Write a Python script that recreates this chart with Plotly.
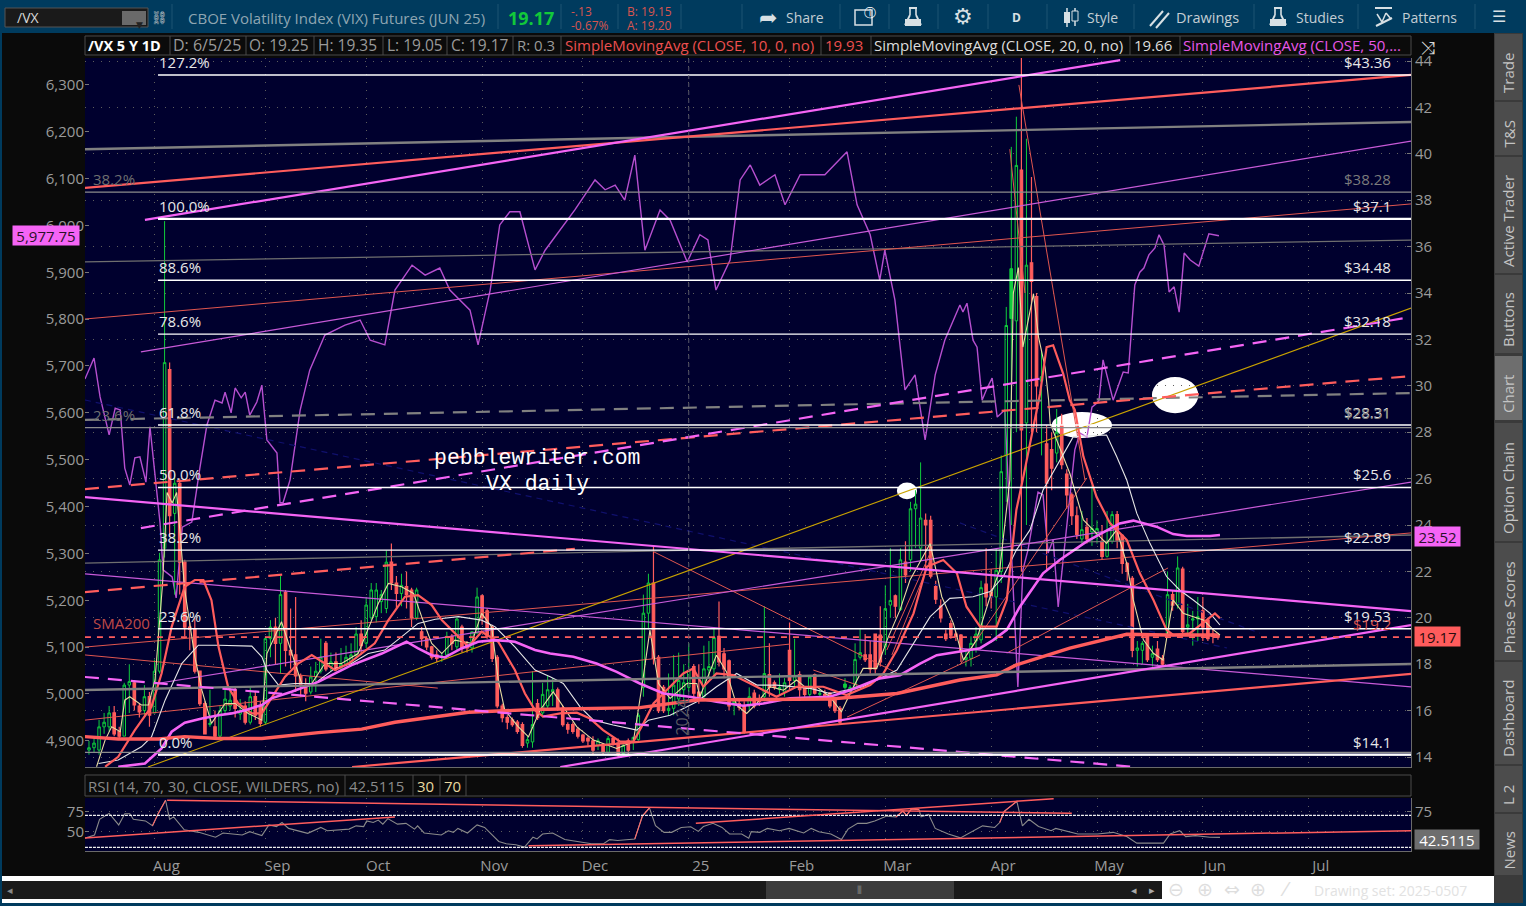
import plotly.graph_objects as go

W, H = 1526, 906
FONT = "Open Sans"

# ---------- price bars (session index 0..224, last = 6/5/25) ----------
opens = [14.3,14.4,14.3,15.3,15.3,15.9,15.1,14.9,17.1,17.2,
 16.2,16.0,16.6,15.9,17.7,23,30.7,24.5,25.8,22.4,
 19.6,19.5,17.7,16.3,15.4,15.3,14.9,16,16.2,16.9,
 15.85,16.2,15.5,16.6,16.2,15.5,19.1,19.6,18.9,21.1,
 18.6,18.4,17.5,17.1,16.8,17.45,17.7,18.9,17.9,18.1,
 17.85,18,18.1,18.4,19.3,18.9,20,20.05,20.7,20.4,
 22.4,21.5,21.05,21.35,21.2,20,19.4,19.1,18.75,18.4,
 18.3,18.4,19.2,18.75,19.6,18.8,18.7,19.35,20.95,20.3,
 19.6,18.3,16.2,15.7,15.6,15.5,15.4,14.6,14.65,16.3,
 15.9,16.2,16.8,16.9,16.1,15.4,15.4,15.2,14.95,14.8,
 14.7,14.5,14.5,14.2,14.8,14.6,14.15,14.7,14.65,14.75,
 17,20.2,21.5,18.3,17,16,16.1,16.5,16.9,17,
 17.9,16.8,16.6,17.75,17.8,19.2,18.45,18.15,16.3,16.3,
 16.2,16.2,16.75,16.5,16.6,17.55,17.2,16.9,16.8,18.6,
 17.3,17.55,16.95,16.7,17.55,16.7,16.7,16.75,16.45,16.1,
 17,16.9,17,18.3,18.4,18.4,19.3,19.25,18.75,20.55,
 20.95,20.35,22.4,22.5,24.7,23,24.2,24.2,21.35,20.5,
 19.3,19.75,19.3,19.26,18.2,18.25,19,19.05,21.45,21.1,
 20.9,22,27,32.9,32.8,39.3,28.4,35.3,33.85,30.2,
 27.5,27.25,27.1,28.3,26.2,25.3,24.4,23.4,23.9,23.7,
 23.6,23.3,22.65,23.3,24.45,23.55,22.35,21.7,18.6,18.6,
 19.2,18.3,18.65,18.25,19.3,21,20.55,22.1,19.6,19.9,
 19.95,20.3,19.9,19.3,19.25]
highs = [14.7,14.9,15.6,15.9,16.2,16.2,15.3,17.2,18.0,17.3,
 16.3,17.1,16.8,18.2,22.8,37.1,31,26.2,26,22.5,
 19.8,20,17.7,16.4,16.9,16,16.2,16.9,17,17,
 16.5,16.4,17,16.8,16.4,19.2,19.9,20,21.8,21.2,
 20.4,20.9,17.6,17.4,17.9,18.1,19.1,19,18.5,18.5,
 18.7,18.8,18.9,19.6,19.9,20.9,21.5,21.5,21.2,22.9,
 23.2,21.8,21.9,22,21.3,21.3,19.6,19.2,18.8,18.6,
 18.5,19.4,19.3,20,19.7,19,19.4,21.3,21,20.4,
 19.7,18.4,16.3,15.8,15.7,15.6,15.5,14.9,17.7,16.5,
 17.2,17.5,17.4,17,16.2,15.5,15.5,15.3,15,14.9,
 14.9,14.8,14.6,14.9,14.9,14.8,14.6,14.8,14.85,15.9,
 21,21.9,23.1,18.4,17.1,17.6,18.4,18.5,18,18.9,
 18,18,18.8,19,19.6,20.7,18.7,18.2,16.5,16.5,
 16.4,17,16.9,16.7,20.5,18.9,17.3,17.6,17.4,19.8,
 19.1,17.7,17,17.5,17.6,16.9,16.9,16.8,16.5,16.2,
 17.4,17.1,18.9,19.5,19.3,19,19.3,20.5,21.4,23,
 21,23,23.3,25,25.5,26.7,24.5,24.4,21.6,20.8,
 19.5,19.9,19.4,19.3,18.6,19.2,19.6,21.6,23,22.1,
 23,27,33.4,40.3,41.6,46,40.65,39,34,31.5,
 28.3,28,29,28.8,26.4,25.4,24.8,24.6,24.3,25.7,
 24.2,24,24.6,24.6,24.6,23.6,22.4,21.8,19,19,
 19.3,18.8,19,18.4,22,21.2,22.65,22.2,20.6,20.3,
 20.9,20.9,20,19.5,19.35]
lows = [14.1,14.2,14.1,15.0,15.1,14.9,14.8,14.9,15.9,16.0,
 15.7,15.8,15.3,15.9,17.6,22.6,23.5,21,21,19.2,
 18.6,17.6,16.2,15,15.3,14.8,14.8,15.9,16,15.7,
 15.6,15.4,15.4,15.6,15.3,15.4,18.3,18,17.6,17.9,
 17.8,16.8,16.6,16.4,16.7,16.8,17.6,17.7,17.7,17.7,
 17.7,17.9,18,18.3,18.4,18.7,19.9,19.8,20.2,20.2,
 21.2,20.4,20.5,20.4,19.6,19.9,18.8,18.6,18.2,18.1,
 18.1,18.3,18.6,18.6,18.5,18.5,18.5,19.3,19.7,19.1,
 18.1,16.1,15.5,15.2,15.3,15,14.4,14.4,14.4,15.6,
 15.7,16.1,16.2,16,15.3,15,15,14.8,14.6,14.5,
 14.1,14.3,14.1,14.15,14.5,14,14,14.1,14.3,14.7,
 16.6,19.5,18,15.9,15.9,15.8,15.8,16.2,16.3,16.8,
 16.5,16.3,16.5,17.4,17.5,17.9,17.4,16,15.8,16,
 15,16,16.1,16.2,16.4,16.6,16.9,16.7,16.6,16.9,
 17,16.6,16.6,16.6,16.7,16.5,16.5,16.1,15.9,15.4,
 16.9,16.7,16.9,18.2,18.1,17.6,17.6,17.9,18.4,20,
 20,20.3,21.5,22,23,22.5,22,21.7,20.6,19.8,
 19,19.1,19,18.1,17.9,17.9,18.5,18.9,20.5,20.4,
 19,21.5,25,24,28,22,24,28,28,27,
 22,25.5,26.7,26.4,24.7,24,23.4,23.2,23.2,23.1,
 23.2,22.5,22.6,23.2,23,21.9,21.6,18.3,17.9,18,
 18.1,17.9,18.1,17.9,19.2,20.3,20.4,19.3,19.3,18.8,
 19,19,19,18.9,19.05]
closes = [14.4,14.6,15.3,15.5,15.9,15.0,14.9,17.1,17.25,16.25,
 15.95,16.6,15.8,17.7,22.5,31,24.4,25.8,22.4,19.6,
 19.5,17.7,16.3,15,15.45,14.9,16,16.5,16.45,16.1,
 16,15.5,16.6,15.8,15.45,19.1,19.6,18.9,21,18.6,
 18.4,17.5,17.1,16.75,17.45,17.7,18.3,17.8,18.1,17.85,
 18,18.3,18.4,19.3,18.8,20.55,21.2,21.2,21,22.4,
 21.5,21.05,21.4,21,20,21.2,19.1,18.75,18.3,18.25,
 18.35,19.2,18.9,19.95,18.7,18.7,19.4,20.9,20,19.2,
 18.25,16.2,15.7,15.5,15.4,15.1,14.5,14.75,15.4,15.7,
 16.7,16.9,16.9,16.1,15.4,15.2,15.1,14.9,14.7,14.7,
 14.3,14.7,14.2,14.8,14.6,14.15,14.5,14.3,14.85,15.8,
 20.2,21.5,18.25,16,16,16.1,17.1,17.3,17.2,17.75,
 16.75,16.5,17.8,17.9,19.15,18.1,17.8,16.2,16.4,16.15,
 15.1,16.6,16.2,16.4,17.6,17,17,17,17.2,17.3,
 17.5,16.9,16.7,17.45,16.75,16.75,16.65,16.2,16,15.5,
 17.15,17,18.2,18.5,18.2,17.8,17.8,18.1,20.4,20.75,
 20.5,22.5,21.85,24.7,24.9,24.3,24,21.8,20.8,20,
 19.1,19.25,19.2,18.54,18.3,18.9,19.3,21.3,20.9,20.9,
 22.05,26.3,32.6,35.05,39.5,28.1,35.2,34.5,30,30.4,
 25.8,26.45,28,26.6,25.3,24.4,23.6,23.8,23.4,23.85,
 23.85,22.65,23.3,24.45,23.35,22.35,22,18.6,18.7,18.9,
 18.2,18.45,18.2,18,21,20.55,22.15,19.4,19.7,19.95,
 20.05,19.6,19.1,19.2,19.17]
sessions = list(range(len(closes)))
filled_green = [150, 183]

tick_sessions = [13,35,55,78,98,119,139,158,179,200,221,242]
tick_labels = ["Aug","Sep","Oct","Nov","Dec","25","Feb","Mar","Apr","May","Jun","Jul"]
vx_ticks = list(range(14, 46, 2))
spx_ticks = list(range(4900, 6400, 100))

# ---------- studies (session, value) ----------
sma200_s = [-0.8,5.8,13.8,19,25.7,34.3,45.5,54.1,60.7,75.3,88.5,109.3,120.6,147,160.3,172.8,180.1,184,194.6,205.9,213.9,223.9]
sma200_v = [14.88,14.78,14.78,14.88,14.8,14.8,15.05,15.2,15.5,15.93,16.05,16.13,16.46,16.5,16.74,17.32,17.54,17.97,18.69,19.29,19.26,19.26]

sma50_s = [5.8,11.1,14.4,16.4,19,22.4,25.7,28.3,31,34.3,36.2,40.2,45.5,52.1,58.1,63,65.3,68,70.6,73.9,77.2,80.6,84.5,88.5,91.5,96.1,100.7,104.7,109.3,114,119.2,124.5,129.8,133.8,139.1,147,151,156.9,160.9,164.9,168.2,172.8,176.8,179.4,182.1,184.7,189.3,192.6,197.9,204.5,207.2,211.8,215.1,217.8,222.4,224.4]
sma50_v = [13.58,13.72,14.37,15.09,15.48,15.66,15.8,15.88,16.02,16.24,16.53,16.81,17.24,17.96,18.46,18.97,18.68,18.39,18.29,18.68,18.97,19.04,18.97,18.61,18.46,18.32,18.03,17.67,17.17,16.74,16.6,16.38,16.21,16.31,16.53,16.6,16.88,17.39,17.53,18.03,18.39,18.54,18.69,19.04,19.48,20.48,21.92,22.49,23.28,24.07,24.19,23.93,23.61,23.53,23.53,23.57]

sma20_s = [1.9,5.8,10.4,12.4,15.1,18.4,21.7,25.7,32.3,34.3,35.3,37.6,40.9,44.8,48.8,52.1,55.4,58.7,62,65.3,68.7,73.3,77.9,80.6,84.5,88.5,91.5,94.1,97.4,100.1,104,108.7,111,115.3,120.6,124.5,128.5,132.5,136.4,143.1,147,153.6,160.3,163.6,166.9,170.8,173.5,175.4,178.8,181.4,184,186.7,189.3,192.6,195.3,201.9,203.9,205.9,207.9,210.5,213.8,216.4,219.1,222.4,224.4]
sma20_v = [13.72,13.87,14.44,14.87,16.45,18.03,18.82,18.82,18.78,18.32,17.75,17.1,17.17,17.17,17.82,18.03,18.46,18.61,19.18,19.76,19.94,20.05,19.9,19.61,18.75,17.75,17.46,17.17,16.17,15.59,15.38,15.16,15.59,15.8,16.38,17.03,17.6,17.1,17.1,16.96,16.74,17.03,17.75,18.9,20.05,20.84,20.88,20.91,21.13,21.78,22.92,23.79,25.51,26.8,27.81,27.88,26.95,25.94,24.5,23.21,21.78,21.2,20.77,20.2,19.69]

sma10_s = [3.2,5.8,9.1,12.4,14.4,16.4,19,21,22.7,24.3,25.7,27.6,29.6,32.3,34.3,36.9,38.9,41.5,44.2,46.8,48.8,51.5,54.1,56.7,59.4,62.7,65.3,68,70,72.6,75.3,77.9,81.2,84.5,86.5,88.5,90.1,93.5,96.8,99.4,102,105.4,108,110,112,114.6,117.9,119.9,121.9,124.5,127.8,131.2,136.4,140.4,145.7,150.3,155,157.6,160.3,163.6,166.2,169.5,172.2,174.1,176.8,180.1,182.1,184,185.4,188.7,190,191.3,193.3,194.6,195.6,197.3,199.9,202.6,205.9,208.5,211.2,213.8,215.1,218.4,221.7,223.4,224.4]
sma10_v = [13.58,14.01,15.16,16.17,17.6,19.61,21.34,21.63,21.63,20.76,18.75,17.03,16.31,15.88,15.88,16.74,17.46,18.03,18.39,18.03,17.75,18.03,18.46,18.9,19.9,20.91,20.98,20.55,19.9,19.33,18.75,19.4,18.97,17.75,16.74,16.02,15.74,15.88,15.91,15.66,15.16,14.66,14.66,15.45,16.31,16.88,17.6,17.82,17.03,17.6,17.53,17.17,16.6,17.03,17.03,16.67,17.1,17.6,18.61,20.19,22.2,22.49,21.92,20.48,19.62,19.62,20.77,24.65,26.09,29.66,31.67,31.75,30.52,29.38,28.96,26.95,25.22,24.07,23.36,21.92,20.77,19.48,19.26,19.33,19.91,20.19,19.98]

fast_s = [1.5,3.2,4.5,6.2,7.1,8.1,10.4,11.8,13.1,14.6,15.5,16.5,17.4,19,21,22.4,24.3,27,29,31.6,34.3,35.3,38.2,40.9,42.2,44.2,46.8,50.1,53.4,56.1,57.4,59.4,62,64.4,66,68,70,72.6,75.9,77.9,79.9,81.2,82.5,85.2,87.2,89.5,92.1,94.1,96.8,100.1,104.7,108,109.7,111.3,113,115.3,118.6,120.6,121.2,124.5,126.5,128.5,130.5,132.5,135.1,137.8,140.4,142.4,144.4,147,149.3,151,153.6,156.3,158.6,160.9,162.9,166.9,169.2,171.5,173.5,176.1,178.8,180.7,182.7,183.4,184.4,185.3,186.8,187.4,188.4,189.7,190.4,190.7,194.6,197.3,199.9,201.9,203.9,205.9,207.2,209.2,211.2,213.1,215.1,217.1,219.1,221.1,223.1,224.4]
fast_v = [13.58,14.73,15.3,15.09,16.45,16.6,16.24,16.24,17.32,21.48,25.4,24.95,25.4,21.2,18.32,16.88,15.45,16.31,16.31,15.88,15.59,18.46,19.83,18.03,17.17,17.17,18.03,18.03,18.46,19.9,20.62,21.48,21.34,21.05,20.05,18.9,18.46,19.04,18.9,20.19,19.61,17.32,16.02,15.3,14.87,16.02,16.81,16.17,15.3,14.73,14.37,14.66,17.03,19.47,17.17,16.53,17.17,17.17,16.6,18.39,17.67,16.24,15.88,16.31,17.03,16.88,17.32,16.96,17.03,16.6,15.95,16.74,17.82,17.82,19.18,20.33,21.63,23.2,20.91,19.76,18.18,19.05,20.91,22.06,25.94,34,35.1,31.67,33.4,33.97,32.1,30.8,29.38,28.38,26.23,24.22,23.64,23.21,23.79,22.35,20.77,19.05,18.47,18.18,20.77,20.2,20.05,19.91,19.48,19.26]

spx_s = [-0.8,1,2.2,4,5.2,6.2,7.1,8.1,9.1,10.1,11.3,12.1,14.1,14.7,16.5,17.3,18.5,20.4,22,23.4,25,26.4,27,28.2,29,30.2,31,31.9,33.3,34.3,35.3,37.3,37.9,38.5,39.9,41.9,43.8,46.8,50.8,53.8,55.8,58.7,60.7,64.1,66.7,69.6,71.6,75.6,77.2,79.6,81.5,83.5,85.5,88.5,90.5,96.4,98.4,100.4,102.4,104.4,106.3,108.3,110.3,113.3,115.3,118.7,121.2,122.8,124.4,127.2,129.2,131.2,133.1,136.1,138.1,141.1,146,150.4,152.4,155,156.9,157.9,159.9,161.9,163.9,165.9,167.9,169.8,172.8,173.4,174.2,175.4,176.2,177.2,178.2,179.2,180.2,181.7,183.1,184.3,185.3,186.3,188.3,189.3,190.3,191.3,192.3,195.6,196.6,198,199,200,200.4,201.2,203.2,205.2,206.2,207.5,208.5,209.3,210.3,211.5,212.3,213.3,214.3,215.3,216.3,217.3,218.5,220.2,222.2,224.2]
spx_v = [5672,5717,5634,5553,5610,5606,5482,5446,5504,5506,5452,5570,5365,5265,5250,5205,5356,5367,5482,5574,5627,5621,5644,5600,5653,5632,5644,5595,5623,5659,5542,5514,5408,5408,5457,5606,5691,5766,5787,5798,5755,5745,5862,5915,5894,5909,5862,5819,5745,5862,6001,6029,6029,5905,5947,6033,6065,6097,6076,6086,6054,6150,5947,6033,6011,5922,5980,5969,5862,5926,6097,6129,6086,6108,6044,6108,6108,6157,6044,5980,5883,5947,5841,5649,5681,5542,5681,5755,5830,5815,5834,5755,5740,5627,5653,5674,5591,5606,5286,5015,5265,5307,5431,5425,5301,5329,5186,5521,5557,5548,5612,5621,5627,5713,5627,5687,5685,5873,5900,5909,5937,5952,5980,5958,5858,5869,5815,5941,5926,5913,5982,5977.75]

rsi_s = [-0.8,1.1,2.1,4,5.9,7.1,8.1,8.8,11.2,12.6,13.8,15.2,16,16.8,18.9,21.8,25.1,26.6,30.4,31.9,34.3,35.7,37.2,38.3,39.6,43.4,46,47.3,51.6,53,54.5,55.1,56.4,57.4,58.3,59.3,61.2,62.9,64.6,65.2,66.5,69.9,71.3,72.3,73.2,75.1,77,78.5,81.3,82.8,84.7,86.4,88.1,88.9,90,92,94.4,99.7,102.1,103.3,104.9,108.3,109.8,111.2,112.4,114.1,115.6,117.5,119.4,120.9,121.9,123.8,125.6,127.1,129.5,130.9,131.4,133.1,134.6,137,138.9,141.8,143.3,144.8,147.2,149.3,150.6,152.5,154.3,155.9,158.3,160.1,161.5,162.2,163.2,164.7,165.1,166.6,167.9,170.5,172.9,177.3,179.7,180.7,181.6,184.1,185.2,186.5,188.4,190.9,191.8,196.2,200.1,203.2,205.9,207.9,213.2,214.5,216.4,217.6,219.5,222.4,224.4]
rsi_v = [41.5,45.5,65,72.4,58,72,72,65,63,57,73,88.6,65,68,52,48.8,42.7,48,45.5,49.6,44.7,58,56,61,53.7,47.6,54.9,50.8,52.8,56.9,56,63,61,64,59,65.9,59,60,52.8,56.9,48,45.5,50.8,48.8,53.7,48,58,54.9,37.4,34.6,33.3,30.5,42.7,40.6,46.7,48,39.8,34.6,34.6,39.8,38.6,40.6,69,79.3,57,48.8,48.8,54.9,55.7,50,56,60,54.9,46.7,46.7,41.5,49.6,48.8,53.7,50.8,53.7,48,53.7,49.6,46.7,39.8,52.8,60,60,63,69,67.9,75.2,70,78,77,68,71,53.7,46.7,41.9,56.9,54.9,61,75,87.4,56.9,65,56,50.8,53.7,46.7,46.7,48.8,43.5,35.4,35.4,46.7,50.8,43.5,44.7,42.7,42.5115]
rsi_hot_ranges = [(12.6,15.2),(108.3,111.2),(160.1,164.7),(180.7,184.1)]

# ---------- drawings: (session0, value0, session1, value1) ----------
pink_thick = [(11.1,37.15,204.6,44.04),(-0.8,25.2,262.3,20.29),(93.5,13.57,262.3,19.69)]
pink_dashed = [(10.3,23.87,261.1,32.92),(-0.8,17.45,207.5,13.57)]
pink_thin = [(10.3,31.46,262.3,40.55),(-0.8,21.89,262.3,17.02),(14.1,17.19,262.3,25.85)]
red_thick = [(-0.8,38.53,262.3,43.4),(52.2,13.57,262.3,17.58)]
red_dashed = [(-0.8,25.55,262.3,30.42),(-0.8,21.11,96.4,22.97)]
red_thin = [(-0.8,18.74,262.3,23.66),(-0.8,32.88,262.3,37.84),(-0.8,18.4,69.2,16.97),(-0.8,15.59,139.1,18.87),
            (112.1,22.84,160.3,17.62),(143.7,17.75,153.6,17.02),(150.4,15.72,176.8,18.4),(172.8,17.97,198,26.03),
            (182.1,18.48,214.1,22.15),(158.3,18.61,166.9,22.79),(159.3,18.4,167.3,22.71),(182.7,40.2,185.7,34),(184.5,42.97,197.6,25.94)]
gray_thick = [(-0.8,40.2,262.3,41.37),(-0.8,16.89,262.3,18.01)]
gray_dashed = [(-0.8,28.53,262.3,29.69)]
gray_thin = [(-0.8,35.34,262.3,36.28),(-0.8,22.36,262.3,23.57)]
gold_thin = [(11.7,13.57,262.3,33.35)]
navy_dashed = [(-0.8,29.39,225.8,18.7),(172.8,24.09,232.3,19.34)]
rsi_trends = [(15.5,88.6,195,72.4),(-0.8,41.9,60.7,67.9),(87.2,32.1,262.3,50.8),(120.4,60,191.4,90.6)]

fib_pct = ["127.2%","100.0%","88.6%","78.6%","61.8%","50.0%","38.2%","23.6%","0.0%"]
fib_val = [43.4,37.2,34.55,32.23,28.31,25.62,22.92,19.53,14.1]
fib_txt = ["$43.36","$37.1","$34.48","$32.18","$28.31","$25.6","$22.89","$19.53","$14.1"]
fib_heavy = [37.2,14.1]
fib2_val = [38.35,28.2,14.2]
last_close = 19.17
# ellipses: (centre session, centre value, half-width sessions, half-height value)
ellipses = [(215.5,29.6,4.6,0.78),(197,28.31,6,0.56),(162.3,25.47,2,0.36)]

XR = [-0.79, 262.3]
Y2R = [13.57, 44.13]
YR = [4844.2, 6357.2]
RR = [25.6, 91.5]
FIB_X0, AX_R = 13.7, 262.3

fig = go.Figure()

def segs(rows):
    xs, ys = [], []
    for a, b, c, d in rows:
        xs += [a, c, None]
        ys += [b, d, None]
    return xs, ys

def lines(rows, color, width, dash="solid", xa="x", ya="y2", opacity=1):
    xs, ys = segs(rows)
    fig.add_trace(go.Scatter(x=xs, y=ys, mode="lines", xaxis=xa, yaxis=ya, hoverinfo="skip", opacity=opacity,
                             line=dict(color=color, width=width, dash=dash), connectgaps=False))

def path(xs, ys, color, width, xa="x", ya="y2"):
    fig.add_trace(go.Scatter(x=xs, y=ys, mode="lines", xaxis=xa, yaxis=ya, hoverinfo="skip",
                             line=dict(color=color, width=width)))

RED, PINK, GRAY = "#ff5c5c", "#f564f5", "#808080"
GREEN = "#10cc3c"

# purple index line on left axis (base plot, behind everything)
path(spx_s, spx_v, "#b64fcf", 1.4, ya="y")

lines(navy_dashed, "#10106e", 1.2, "6px,5px")
lines(gray_thin, "#6f6f6f", 1.3)
lines(red_thin, "#e0564f", 1)
lines(pink_thin, "#c85ad8", 1.2)
lines(gold_thin, "#c9a200", 1.1)

fig.add_trace(go.Candlestick(x=sessions, open=opens, high=highs, low=lows, close=closes,
    xaxis="x", yaxis="y2", hoverinfo="skip", whiskerwidth=0,
    increasing=dict(line=dict(color=GREEN, width=1), fillcolor="rgba(0,0,0,0)"),
    decreasing=dict(line=dict(color=RED, width=1.2), fillcolor=RED)))
fig.add_trace(go.Bar(x=filled_green, base=[opens[i] for i in filled_green],
    y=[closes[i]-opens[i] for i in filled_green], width=0.7, marker=dict(color=GREEN, line=dict(width=0)),
    xaxis="x", yaxis="y2", hoverinfo="skip"))

path(fast_s, fast_v, "#e8dca0", 1.1)
path(sma20_s, sma20_v, "#e6e6e6", 1.1)
path(sma10_s, sma10_v, RED, 2.2)
path(sma50_s, sma50_v, PINK, 2.6)
path(sma200_s, sma200_v, RED, 3.4)

lines(gray_thick, GRAY, 2.4)
lines(gray_dashed, GRAY, 2.2, "14px,9px")
lines(red_thick, RED, 2.2)
lines(red_dashed, RED, 2.2, "14px,9px")
lines(pink_thick, PINK, 2.2)
lines(pink_dashed, PINK, 2.2, "14px,9px")

# fib levels
lines([(FIB_X0, v, AX_R, v) for v in fib_val], "#ffffff", 1.4)
lines([(FIB_X0, v, AX_R, v) for v in fib_heavy], "#ffffff", 2.2)
lines([(-0.8, v, AX_R, v) for v in fib2_val], "#8c8c8c", 1.2)
lines([(-0.8, last_close, AX_R, last_close)], RED, 1.8, "6px,6px")
lines([(119, 13.57, 119, 44.13)], "#5a5a6a", 1, "4px,4px")

# RSI panel
path(rsi_s, rsi_v, "#8a8a8a", 1.1, xa="x2", ya="y3")
for a, b in rsi_hot_ranges:
    idx = [i for i, s in enumerate(rsi_s) if a <= s <= b]
    path([rsi_s[i] for i in idx], [rsi_v[i] for i in idx], "#ff6a6a", 1.1, xa="x2", ya="y4")
lines([(-0.8, 70, AX_R, 70), (-0.8, 30, AX_R, 30)], "#f0f0f0", 1.2, "3px,1px", xa="x2", ya="y4")
lines(rsi_trends, "#ff5c5c", 1.5, xa="x2", ya="y4")

# ---------- chrome helpers ----------
shapes, notes = [], []
def rect(x0, y0, x1, y1, fill, line=None, lw=1):
    shapes.append(dict(type="rect", xref="paper", yref="paper", x0=x0/W, x1=x1/W, y0=1-y0/H, y1=1-y1/H,
                       fillcolor=fill, line=dict(color=line or fill, width=lw if line else 0), layer="below"))
def vline(x, y0, y1, color, lw=1):
    shapes.append(dict(type="line", xref="paper", yref="paper", x0=x/W, x1=x/W, y0=1-y0/H, y1=1-y1/H,
                       line=dict(color=color, width=lw), layer="below"))
def seg(x0, y0, x1, y1, color, lw=2):
    shapes.append(dict(type="line", xref="paper", yref="paper", x0=x0/W, x1=x1/W, y0=1-y0/H, y1=1-y1/H,
                       line=dict(color=color, width=lw), layer="below"))
def flask(cx, cy, color="#d8e0e4"):
    # simple laboratory-flask glyph for the toolbar
    seg(cx-4, cy-9, cx+4, cy-9, color, 2)
    seg(cx-3, cy-9, cx-3, cy-2, color, 1.6)
    seg(cx+3, cy-9, cx+3, cy-2, color, 1.6)
    seg(cx-3, cy-2, cx-8, cy+8, color, 1.8)
    seg(cx+3, cy-2, cx+8, cy+8, color, 1.8)
    rect(cx-8, cy+2, cx+8, cy+9, color)
def txt(x, y, s, color="#bbbbbb", size=14, anchor="left", angle=0, family=FONT):
    notes.append(dict(xref="paper", yref="paper", x=x/W, y=1-y/H, text=s, showarrow=False, xanchor=anchor, yanchor="middle",
                      textangle=angle, font=dict(family=family, size=size, color=color), borderpad=0, borderwidth=0))
def tag(x0, x1, y, s, fill, color, size=15):
    notes.append(dict(xref="paper", yref="paper", x=(x0+x1)/2/W, y=1-y/H, text=s, showarrow=False, xanchor="center", yanchor="middle",
                      width=x1-x0, height=19, bgcolor=fill, font=dict(family=FONT, size=size, color=color), borderpad=0))
def dtxt(s_, v_, s, color, size, anchor, yshift):
    notes.append(dict(xref="x", yref="y2", x=s_, y=v_, text=s, showarrow=False, xanchor=anchor, yanchor="middle", yshift=yshift,
                      font=dict(family=FONT, size=size, color=color), borderpad=0))

BLUE = "#003b5e"
ICON = "#d8e0e4"
rect(0, 0, W, 33, BLUE)
rect(0, 33, 2, 906, BLUE)
rect(1523, 33, W, 906, BLUE)
rect(0, 903, W, 906, BLUE)
# symbol box
rect(5, 8, 148, 27, "#1a1a1a", "#555555")
txt(17, 18, "/VX", "#d8d8d8", 14)
rect(122, 11, 146, 25, "#6a6a6a")
notes.append(dict(xref="paper", yref="paper", x=134/W, y=1-18/H, text="▼", showarrow=False, font=dict(size=9, color="#222", family="DejaVu Sans")))
txt(159, 18, "⛓", "#cccccc", 13, "center", family="DejaVu Sans")
for x in (172, 498, 561, 618, 681, 742, 840, 889, 938, 988, 1047, 1134, 1254, 1358, 1475):
    vline(x, 4, 29, "#1c5572")
txt(188, 18, "CBOE Volatility Index (VIX) Futures (JUN 25)", "#8fa6b2", 15)
txt(508, 18, "<b>19.17</b>", "#12c93a", 18)
txt(571, 12, "-.13", "#d8554f", 12)
txt(571, 25, "-0.67%", "#d8554f", 12)
txt(627, 12, "B: 19.15", "#d8554f", 12)
txt(627, 25, "A: 19.20", "#d8554f", 12)
txt(768, 18, "➦", ICON, 22, "center", family="DejaVu Sans")
txt(786, 18, "Share", "#c4ced4", 14)
rect(855, 10, 872, 25, BLUE, ICON, 1.5)
txt(870, 13, "ⓘ", "#ffffff", 12, "center", family="DejaVu Sans")
flask(913, 17)
txt(963, 17, "⚙", ICON, 22, "center", family="DejaVu Sans")
txt(1016, 18, "<b>D</b>", ICON, 12, "center")
vline(1067, 8, 27, ICON, 1.5)
rect(1064, 12, 1070, 23, ICON)
vline(1075, 8, 26, ICON, 1.5)
rect(1072, 11, 1078, 21, BLUE, ICON)
txt(1087, 18, "Style", "#c4ced4", 14)
seg(1150, 26, 1163, 11, ICON, 2)
seg(1156, 28, 1169, 13, ICON, 2)
txt(1176, 18, "Drawings", "#c4ced4", 14.5)
flask(1278, 17)
txt(1296, 18, "Studies", "#c4ced4", 14)
seg(1375, 8, 1392, 8, ICON, 2)
seg(1376, 26, 1392, 18, ICON, 2)
seg(1377, 14, 1382, 22, ICON, 1.5)
seg(1382, 22, 1386, 13, ICON, 1.5)
seg(1386, 13, 1391, 19, ICON, 1.5)
txt(1402, 18, "Patterns", "#c4ced4", 14)
txt(1499, 17, "☰", ICON, 16, "center", family="DejaVu Sans")

# study header row
rect(85, 36, 1411, 55, "#0b0b0b", "#4a4a4a")
for x in (170, 246, 314, 383, 447, 513, 561, 821, 871, 1130, 1180):
    vline(x, 36, 55, "#4a4a4a")
txt(88, 45.5, "<b>/VX 5 Y 1D</b>", "#ffffff", 14.5)
txt(173, 45.5, "D: 6/5/25", "#9a9a9a", 16)
txt(249, 45.5, "O: 19.25", "#9a9a9a", 15.5)
txt(318, 45.5, "H: 19.35", "#9a9a9a", 15.5)
txt(387, 45.5, "L: 19.05", "#9a9a9a", 15.5)
txt(451, 45.5, "C: 19.17", "#9a9a9a", 15.5)
txt(517, 45.5, "R: 0.3", "#9a9a9a", 15)
txt(565, 45.5, "SimpleMovingAvg (CLOSE, 10, 0, no)", "#ee5050", 15)
txt(825, 45.5, "19.93", "#ee5050", 15)
txt(874, 45.5, "SimpleMovingAvg (CLOSE, 20, 0, no)", "#dddddd", 15)
txt(1134, 45.5, "19.66", "#dddddd", 15)
txt(1183, 45.5, "SimpleMovingAvg (CLOSE, 50,...", "#e857e8", 15)
txt(1428, 47, "⤨", "#d8d8d8", 18, "center", family="DejaVu Sans")

# RSI header row
rect(85, 775, 1411, 796, "#0b0b0b", "#4a4a4a")
for x in (345, 413, 440, 466):
    vline(x, 775, 796, "#4a4a4a")
txt(88, 785.5, "RSI (14, 70, 30, CLOSE, WILDERS, no)", "#8a8a8a", 15)
txt(349, 785.5, "42.5115", "#8a8a8a", 15)
txt(417, 785.5, "30", "#e8d8a0", 15)
txt(444, 785.5, "70", "#e8d8a0", 15)

# bottom scroll strip
rect(2, 876, 1494, 881, "#ffffff")
rect(2, 881, 1162, 899, "#1a1a1a")
rect(766, 881, 954, 899, "#3c3c3c")
rect(1162, 881, 1494, 899, "#ffffff")
rect(2, 899, 1494, 903, "#ffffff")
txt(859, 890, "⦀", "#888888", 11, "center", family="DejaVu Sans")
txt(10, 890, "◂", "#888888", 11, "center", family="DejaVu Sans")
txt(1134, 890, "◂", "#aaaaaa", 11, "center", family="DejaVu Sans")
txt(1152, 890, "▸", "#aaaaaa", 11, "center", family="DejaVu Sans")
for x, g in ((1176, "⊖"), (1205, "⊕"), (1232, "⇔"), (1258, "⊕"), (1285, "⁄")):
    txt(x, 889, g, "#dedede", 19, "center", family="DejaVu Sans")
txt(1314, 890, "Drawing set: 2025-0507", "#e2e2e2", 14)

# sidebar tabs
rect(1494, 33, 1523, 903, "#3a3a3a")
tabs = [("Trade",34,100,0),("T&S",102,155,0),("Active Trader",157,273,0),("Buttons",275,353,0),("Chart",356,420,1),
        ("Option Chain",423,541,0),("Phase Scores",543,660,0),("Dashboard",662,764,0),("L 2",766,812,0),("News",814,875,0)]
for name, y0, y1, active in tabs:
    rect(1495, y0, 1522, y1, "#6e6e6e" if active else "#4c4c4c")
    txt(1508, (y0+y1)/2+6, name, "#c4c4c4", 15, "center", -90)

# chart texts
for s_, v_, p, t in zip([FIB_X0]*9, fib_val, fib_pct, fib_txt):
    dtxt(s_, v_, p, "#e8e8e8", 15, "left", 13)
    dtxt(258.6, v_, t, "#e8e8e8", 15, "right", 13)
dtxt(0.6, 38.35, "38.2%", "#6f6f6f", 15, "left", 13)
dtxt(0.6, 28.2, "23.6%", "#6f6f6f", 15, "left", 13)
dtxt(258.6, 38.35, "$38.28", "#7c7c7c", 15, "right", 13)
dtxt(258.6, 28.2, "$28.31", "#7c7c7c", 15, "right", 15)
dtxt(258.6, 19.17, "$19.2", "#d8504a", 15, "right", 13)
dtxt(0.6, 19.17, "SMA200", "#c04a46", 15, "left", 14)
dtxt(88.9, 26.87, "pebblewriter.com", "#ffffff", 21.5, "center", 0)
dtxt(88.9, 25.77, "VX daily", "#ffffff", 21.5, "center", 0)
notes[-1]["font"]["family"] = "Liberation Mono"
notes[-2]["font"]["family"] = "Liberation Mono"
notes.append(dict(xref="x", yref="y2", x=117.5, y=15.7, text="2024", showarrow=False, textangle=-90,
                  font=dict(family=FONT, size=16, color="#5a5a62")))

tag(13, 79, 235, "5,977.75", "#f564f5", "#2a102a")
tag(1415, 1460, 536, "23.52", "#f564f5", "#2a102a")
tag(1415, 1460, 636.5, "19.17", "#ff5c5c", "#2a0d0d")
tag(1415, 1479, 839, "42.5115", "#6e6e6e", "#ffffff")

for s_, v_, rx, ry in ellipses:
    shapes.append(dict(type="circle", xref="x", yref="y2", x0=s_-rx, x1=s_+rx, y0=v_-ry, y1=v_+ry,
                       fillcolor="#ffffff", line=dict(width=0), layer="below"))

axis_font = dict(family=FONT, size=15, color="#9a9a9a")
grid = dict(showgrid=True, gridcolor="#5d5d5d", griddash="1px,7px", gridwidth=1)
DOM_X = [85/W, 1411/W]
fig.update_layout(
    width=W, height=H, margin=dict(l=0, r=0, t=0, b=0, autoexpand=False), showlegend=False, barmode="overlay",
    paper_bgcolor="#0a0a0a", plot_bgcolor="#00002e", shapes=shapes, annotations=notes,
    font=dict(family=FONT),
    xaxis=dict(domain=DOM_X, range=XR, anchor="y", tickvals=tick_sessions, showticklabels=False, ticks="",
               showline=True, linecolor="#6a6a6a", rangeslider=dict(visible=False), zeroline=False, **grid),
    yaxis=dict(domain=[1-767/H, 1-58/H], range=YR, side="left", anchor="x", tickvals=spx_ticks, tickformat=",",
               ticks="inside", ticklen=4, tickcolor="#777777", tickfont=axis_font, showgrid=False, zeroline=False,
               showline=False),
    yaxis2=dict(range=Y2R, side="right", overlaying="y", anchor="x", tickvals=vx_ticks,
                ticks="inside", ticklen=4, tickcolor="#777777", tickfont=axis_font, zeroline=False,
                showline=True, linecolor="#6a6a6a", **grid),
    xaxis2=dict(domain=DOM_X, range=XR, anchor="y3", tickvals=tick_sessions, ticktext=tick_labels,
                tickfont=axis_font, ticks="", ticklabelshift=12, ticklabelstandoff=1,
                showline=True, linecolor="#6a6a6a", zeroline=False, **grid),
    yaxis3=dict(domain=[1-851/H, 1-798/H], range=RR, side="right", anchor="x2", tickvals=[75],
                ticks="inside", ticklen=4, tickcolor="#777777", tickfont=axis_font, zeroline=False,
                showline=True, linecolor="#6a6a6a", gridcolor="#5d5d5d", griddash="1px,7px", showgrid=True),
    yaxis4=dict(range=RR, side="left", overlaying="y3", anchor="x2", tickvals=[50, 75],
                ticks="inside", ticklen=4, tickcolor="#777777", tickfont=axis_font, zeroline=False,
                showgrid=True, gridcolor="#5d5d5d", griddash="1px,7px", showline=False),
)

fig.write_html("out.html", config={"displayModeBar": False},
               post_script="document.body.style.margin='0';document.body.style.overflow='hidden';")
